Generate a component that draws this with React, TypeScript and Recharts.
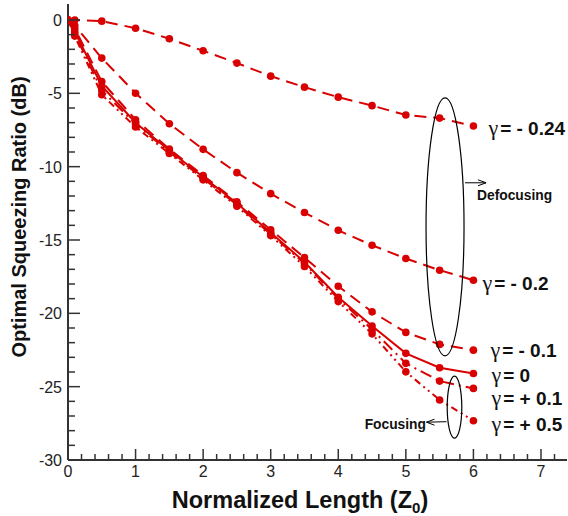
import { LineChart, Line, XAxis, YAxis, ReferenceDot } from 'recharts';

// normalized length Z0 at which every curve is sampled
const zValues = [0, 0.1, 0.5, 1, 1.5, 2, 2.5, 3, 3.5, 4, 4.5, 5, 5.5, 6];

// optimal squeezing ratio (dB) per gamma
const gammaMinus024 = [0, 0, -0.08, -0.56, -1.28, -2.1, -2.94, -3.83, -4.58, -5.26, -5.84, -6.48, -6.69, -7.23];
const gammaMinus02 = [0, -0.38, -2.6, -4.99, -7.07, -8.82, -10.41, -11.84, -13.13, -14.34, -15.36, -16.26, -17.06, -17.74];
const gammaMinus01 = [0, -0.6, -4.2, -6.8, -8.8, -10.6, -12.4, -14.3, -16.2, -18.15, -19.9, -21.3, -22.12, -22.51];
const gammaZero = [0, -0.8, -4.5, -7.0, -8.9, -10.7, -12.5, -14.5, -16.5, -18.9, -20.87, -22.73, -23.71, -24.1];
const gammaPlus01 = [0, -0.95, -4.8, -7.1, -9.0, -10.8, -12.6, -14.6, -16.6, -19.0, -21.1, -23.41, -24.62, -25.12];
const gammaPlus05 = [0, -1.1, -5.1, -7.3, -9.1, -10.9, -12.7, -14.7, -16.8, -19.2, -21.4, -23.99, -25.91, -27.32];

const gammaLabels = ['- 0.24', '- 0.2', '- 0.1', '0', '+ 0.1', '+ 0.5'];

const xMajorTicks = [0, 1, 2, 3, 4, 5, 6, 7];
const yMajorTicks = [0, -5, -10, -15, -20, -25, -30];

const RED = '#d80000';
const FONT = '"Liberation Sans", Arial, Helvetica, sans-serif';

const xTicks: number[] = [];
for (let i = 0; i <= 36; i++) xTicks.push(Math.round(i * 2) / 10);
const yTicks: number[] = [];
for (let v = -30; v <= 0; v++) yTicks.push(v);

const toRows = (vals: number[]) => zValues.map((z, i) => ({ z, v: vals[i] }));

const series = [
  { values: gammaMinus024, label: gammaLabels[0], dash: '12 7', dx: 15, dy: 2 },
  { values: gammaMinus02, label: gammaLabels[1], dash: '12 7', dx: 9, dy: 3 },
  { values: gammaMinus01, label: gammaLabels[2], dash: '12 7', dx: 17, dy: 0 },
  { values: gammaZero, label: gammaLabels[3], dash: undefined, dx: 18, dy: 2 },
  { values: gammaPlus01, label: gammaLabels[4], dash: '12 5 2 5', dx: 18, dy: 10 },
  { values: gammaPlus05, label: gammaLabels[5], dash: '7 4 2 4 2 4', dx: 18, dy: 3 },
];

const XTick = (props: any) => {
  const { x, y, payload } = props;
  const v = payload.value;
  const major = xMajorTicks.some((t) => Math.abs(t - v) < 1e-6);
  return (
    <g>
      <line x1={x} x2={x} y1={y} y2={y - (major ? 11 : 6)} stroke="#333" strokeWidth={1.5} />
      {major && (
        <text x={x} y={y + 17} textAnchor="middle" fontSize={16} fill="#222" fontFamily={FONT}>
          {Math.round(v)}
        </text>
      )}
    </g>
  );
};

const YTick = (props: any) => {
  const { x, y, payload } = props;
  const v = payload.value;
  const major = yMajorTicks.includes(v);
  return (
    <g>
      <line x1={x} x2={x + (major ? 12 : 7)} y1={y} y2={y} stroke="#333" strokeWidth={1.5} />
      {major && (
        <text x={x - 6} y={y + 6} textAnchor="end" fontSize={16} fill="#222" fontFamily={FONT}>
          {v}
        </text>
      )}
    </g>
  );
};

export default function App() {
  return (
    <div style={{ position: 'absolute', left: 0, top: 0, width: 568, height: 516, background: '#fff' }}>
      <LineChart width={568} height={516} margin={{ top: 4, right: 1, left: 0, bottom: 0 }}>
        <XAxis
          type="number"
          dataKey="z"
          domain={[0, 7.385]}
          ticks={xTicks}
          interval={0}
          allowDataOverflow
          height={56}
          tickSize={0}
          tickMargin={0}
          tickLine={false}
          tick={<XTick />}
          axisLine={{ stroke: '#333', strokeWidth: 2 }}
        />
        <XAxis
          xAxisId="top"
          orientation="top"
          type="number"
          domain={[0, 7.385]}
          height={0}
          tick={false}
          tickLine={false}
          axisLine={{ stroke: '#000', strokeWidth: 1.5 }}
        />
        <YAxis
          type="number"
          domain={[-30, 1.09]}
          ticks={yTicks}
          interval={0}
          allowDataOverflow
          width={68}
          tickSize={0}
          tickMargin={0}
          tickLine={false}
          tick={<YTick />}
          axisLine={{ stroke: '#333', strokeWidth: 2 }}
        />
        <YAxis
          yAxisId="right"
          orientation="right"
          domain={[-30, 1.09]}
          width={0}
          tick={false}
          tickLine={false}
          axisLine={{ stroke: '#bbb', strokeWidth: 1 }}
        />
        {series.map((s, i) => (
          <Line
            key={i}
            type="linear"
            data={toRows(s.values)}
            dataKey="v"
            stroke={RED}
            strokeWidth={2}
            strokeDasharray={s.dash}
            dot={{ r: 3.8, fill: RED, stroke: RED, strokeWidth: 0 }}
            isAnimationActive={false}
          />
        ))}
        {series.map((s, i) => (
          <ReferenceDot
            key={'lab' + i}
            x={zValues[zValues.length - 1]}
            y={s.values[s.values.length - 1]}
            r={0}
            ifOverflow="visible"
            shape={(p: any) => (
              <text x={p.cx + s.dx} y={p.cy + s.dy + 7} fontFamily={FONT} fontSize={19} fontWeight="bold" fill="#111">
                <tspan fontFamily='"Liberation Serif", "Times New Roman", serif' fontWeight="normal" fontSize={22}>
                  γ
                </tspan>
                <tspan dx={2}>{'= ' + s.label}</tspan>
              </text>
            )}
          />
        ))}
        {/* defocusing ellipse */}
        <ReferenceDot
          x={5.58}
          y={-14.1}
          r={0}
          ifOverflow="visible"
          shape={(p: any) => (
            <g>
              <ellipse cx={p.cx} cy={p.cy} rx={19} ry={129} fill="none" stroke="#000" strokeWidth={1.2} />
              <line x1={p.cx + 20} y1={p.cy - 44} x2={p.cx + 41} y2={p.cy - 44} stroke="#000" strokeWidth={1} />
              <polyline
                points={`${p.cx + 33},${p.cy - 47} ${p.cx + 41},${p.cy - 44} ${p.cx + 33},${p.cy - 41}`}
                fill="none"
                stroke="#000"
                strokeWidth={1}
              />
              <text x={p.cx + 32} y={p.cy - 27} fontFamily={FONT} fontSize={13.8} fontWeight="bold" fill="#111">
                Defocusing
              </text>
            </g>
          )}
        />
        {/* focusing ellipse */}
        <ReferenceDot
          x={5.72}
          y={-26.4}
          r={0}
          ifOverflow="visible"
          shape={(p: any) => (
            <g>
              <ellipse cx={p.cx} cy={p.cy} rx={7.3} ry={31} fill="none" stroke="#000" strokeWidth={1.2} />
              <line x1={p.cx - 8} y1={p.cy + 14.5} x2={p.cx - 28} y2={p.cy + 15} stroke="#000" strokeWidth={1} />
              <polyline
                points={`${p.cx - 20},${p.cy + 12} ${p.cx - 28},${p.cy + 15} ${p.cx - 20},${p.cy + 18}`}
                fill="none"
                stroke="#000"
                strokeWidth={1}
              />
              <text x={p.cx - 28.5} y={p.cy + 21.5} textAnchor="end" fontFamily={FONT} fontSize={13.8} fontWeight="bold" fill="#111">
                Focusing
              </text>
            </g>
          )}
        />
      </LineChart>
      <svg width={568} height={516} style={{ position: 'absolute', left: 0, top: 0, pointerEvents: 'none' }}>
        <text
          transform="translate(26,217) rotate(-90)"
          textAnchor="middle"
          fontFamily={FONT}
          fontSize={20}
          fontWeight="bold"
          fill="#111"
        >
          Optimal Squeezing Ratio (dB)
        </text>
        <text x={300} y={508} textAnchor="middle" fontFamily={FONT} fontSize={23.5} fontWeight="bold" fill="#111">
          Normalized Length (Z
          <tspan fontSize={15} dy={5}>0</tspan>
          <tspan dy={-5}>)</tspan>
        </text>
      </svg>
    </div>
  );
}
